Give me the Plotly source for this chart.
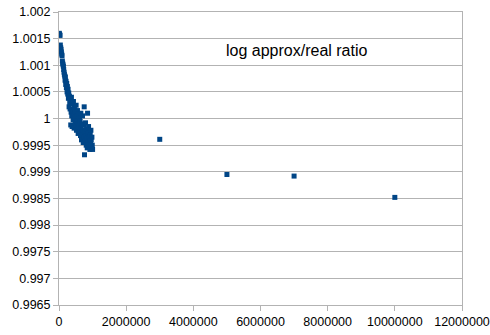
import plotly.graph_objects as go

# sample size n and ratio of log approximation to real value
n_values = [
    10000, 20000, 30000, 40000, 50000, 60000, 70000, 80000, 90000, 100000,
    110000, 120000, 130000, 140000, 150000, 160000, 170000, 180000, 190000, 200000,
    210000, 220000, 230000, 240000, 250000, 260000, 270000, 280000, 290000, 300000,
    310000, 320000, 330000, 340000, 350000, 360000, 370000, 380000, 390000, 400000,
    410000, 420000, 430000, 440000, 450000, 460000, 470000, 480000, 490000, 500000,
    510000, 520000, 530000, 540000, 550000, 560000, 570000, 580000, 590000, 600000,
    610000, 620000, 630000, 640000, 650000, 660000, 670000, 680000, 690000, 700000,
    710000, 720000, 730000, 740000, 750000, 760000, 770000, 780000, 790000, 800000,
    810000, 820000, 830000, 840000, 850000, 860000, 870000, 880000, 890000, 900000,
    910000, 920000, 930000, 940000, 950000, 960000, 970000, 980000, 990000, 1000000,
    3000000, 5000000, 7000000, 10000000,
]
ratios = [
    1.00160, 1.00158, 1.00156, 1.00138, 1.00133, 1.00130, 1.00125, 1.00121, 1.00118, 1.00108,
    1.00104, 1.00101, 1.00098, 1.00092, 1.00087, 1.00083, 1.00080, 1.00072, 1.00078, 1.00064,
    1.00070, 1.00058, 1.00066, 1.00050, 1.00060, 1.00046, 1.00055, 1.00038, 1.00048, 1.00022,
    1.00042, 1.00030, 1.00018, 1.00035, 0.99988, 1.00012, 1.00040, 1.00005, 0.99985, 1.00028,
    1.00015, 0.99998, 1.00032, 1.00008, 0.99982, 1.00020, 1.00002, 0.99992, 1.00012, 0.99986,
    1.00025, 0.99978, 1.00005, 0.99995, 1.00015, 0.99984, 0.99972, 1.00008, 0.99990, 0.99985,
    1.00002, 0.99975, 0.99995, 0.99968, 1.00010, 0.99982, 0.99960, 0.99990, 0.99970, 1.00005,
    0.99978, 0.99955, 0.99988, 0.99965, 1.00022, 0.99932, 0.99975, 0.99958, 0.99992, 0.99968,
    0.99950, 0.99980, 0.99962, 0.99945, 1.00010, 0.99972, 0.99955, 0.99985, 0.99948, 0.99965,
    0.99958, 0.99942, 0.99970, 0.99952, 0.99978, 0.99960, 0.99945, 0.99965, 0.99950, 0.99942,
    0.99961, 0.99895, 0.99892, 0.99852,
]

y_tick_values = [0.9965, 0.997, 0.9975, 0.998, 0.9985, 0.999, 0.9995, 1.0,
                 1.0005, 1.001, 1.0015, 1.002]
y_tick_labels = ["0.9965", "0.997", "0.9975", "0.998", "0.9985", "0.999", "0.9995", "1",
                 "1.0005", "1.001", "1.0015", "1.002"]
x_tick_values = [0, 2000000, 4000000, 6000000, 8000000, 10000000, 12000000]
x_tick_labels = ["0", "2000000", "4000000", "6000000", "8000000", "10000000", "12000000"]

title_text = "log approx/real ratio"

axis_grey = "#b3b3b3"
font_family = "Liberation Sans, Arial, sans-serif"

fig = go.Figure(
    go.Scatter(
        x=n_values,
        y=ratios,
        mode="markers",
        marker=dict(symbol="square", size=5, color="#004586", line=dict(width=0)),
        showlegend=False,
        hoverinfo="x+y",
    )
)

fig.update_layout(
    width=490,
    height=335,
    margin=dict(l=59, r=28, t=12, b=30),
    paper_bgcolor="white",
    plot_bgcolor="white",
    font=dict(family=font_family, size=12.5, color="#000000"),
    annotations=[
        dict(
            text=title_text,
            xref="paper", yref="paper",
            x=0.59, y=0.87,
            xanchor="center", yanchor="middle",
            showarrow=False,
            font=dict(family=font_family, size=16, color="#000000"),
        )
    ],
)

fig.update_xaxes(
    range=[0, 12000000],
    tickmode="array",
    tickvals=x_tick_values,
    ticktext=x_tick_labels,
    showgrid=False,
    zeroline=False,
    showline=True,
    linecolor=axis_grey,
    linewidth=1,
    mirror=True,
    ticks="outside",
    ticklen=5,
    tickcolor=axis_grey,
    tickfont=dict(size=12.5, color="#000000"),
    automargin=False,
)

fig.update_yaxes(
    range=[0.9965, 1.002],
    tickmode="array",
    tickvals=y_tick_values,
    ticktext=y_tick_labels,
    showgrid=True,
    gridcolor=axis_grey,
    gridwidth=1,
    zeroline=False,
    showline=True,
    linecolor=axis_grey,
    linewidth=1,
    mirror=True,
    ticks="outside",
    ticklen=5,
    tickcolor=axis_grey,
    tickfont=dict(size=12.5, color="#000000"),
    automargin=False,
)

fig.write_html("out.html")
